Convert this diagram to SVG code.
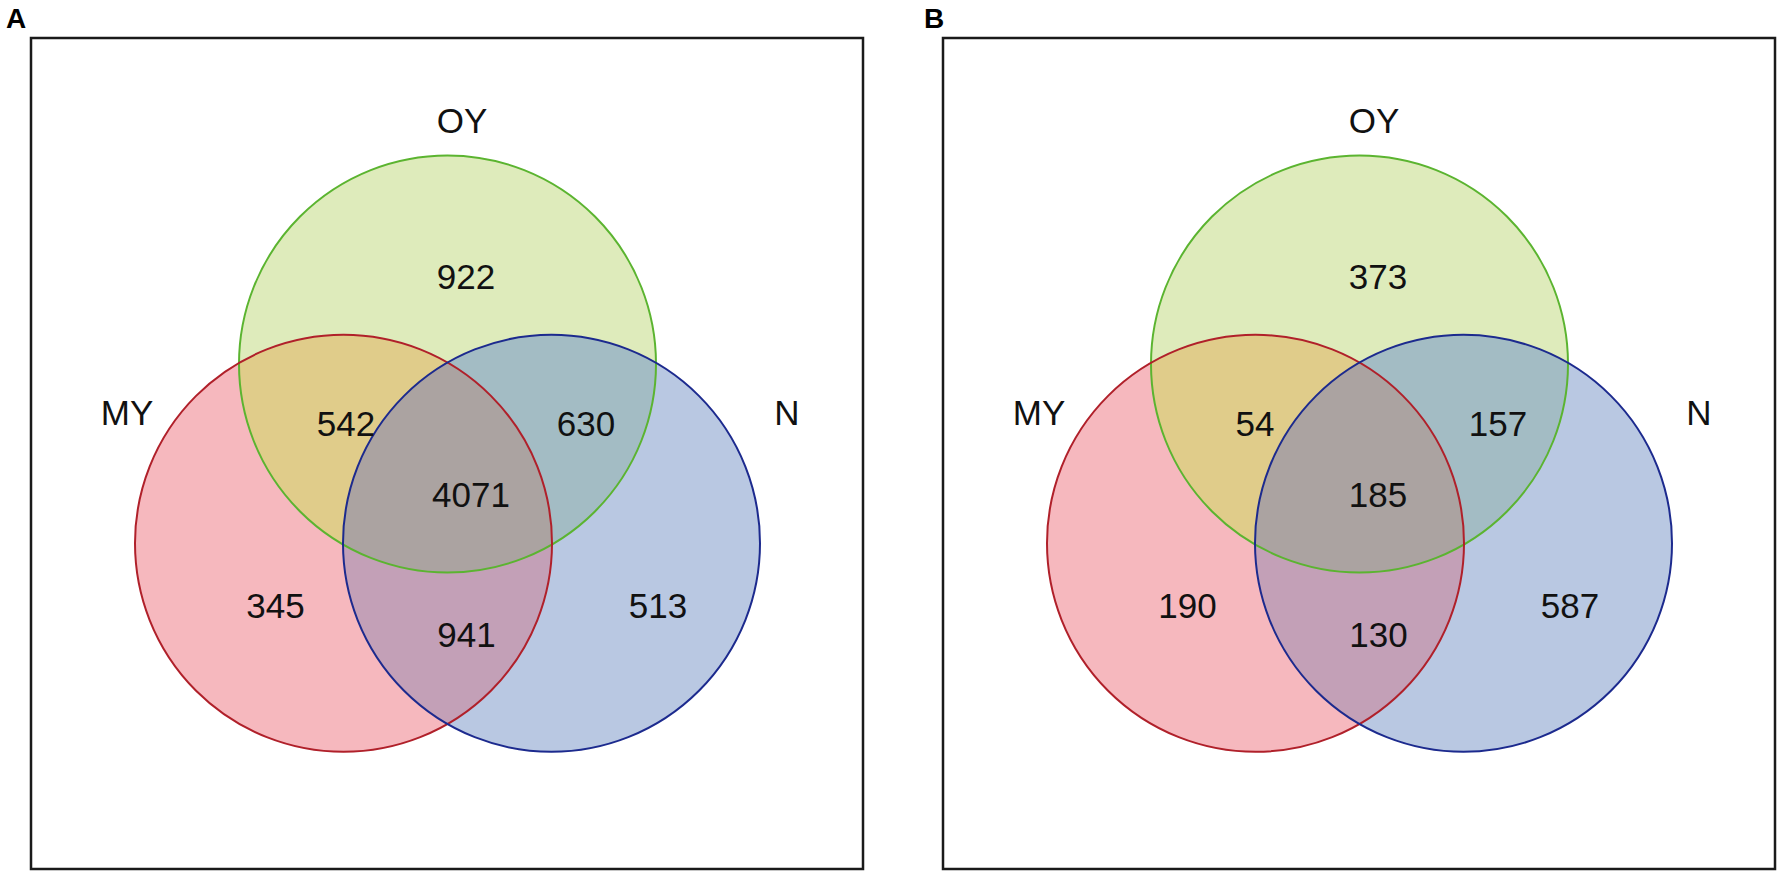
<svg xmlns="http://www.w3.org/2000/svg" width="1783" height="877" viewBox="0 0 1783 877">
<style>
.frame{fill:none;stroke:#1a1a1a;stroke-width:2.5}
.plab{font-family:"Liberation Sans",Arial,sans-serif;font-weight:bold;font-size:28px;fill:#000}
.t{font-family:"Liberation Sans",Arial,sans-serif;font-size:35px;fill:#111;text-anchor:middle}
.rf{fill:#F6B8BE}
.gf{fill:#DEEBBB}
.bf{fill:#B9C8E2}
.rg{fill:#E0CC8A}
.gb{fill:#A3BCC4}
.rb{fill:#C3A0B7}
.rgb{fill:#ABA3A1}
.rs{fill:none;stroke:#B0202A;stroke-width:2}
.gs{fill:none;stroke:#5BB430;stroke-width:2}
.bs{fill:none;stroke:#1C2A8E;stroke-width:2}
</style>
<defs>
<circle id="cR" cx="343.5" cy="543.3" r="208.5"/>
<circle id="cG" cx="447.5" cy="364" r="208.5"/>
<circle id="cB" cx="551.5" cy="543.3" r="208.5"/>
<clipPath id="clipR"><use href="#cR"/></clipPath>
<clipPath id="clipB"><use href="#cB"/></clipPath>
</defs>
<rect width="1783" height="877" fill="#fff"/>

<g id="panelA">
<text class="plab" x="6" y="28">A</text>
<rect class="frame" x="31" y="38" width="832" height="831"/>
<g id="A-fills">
<use href="#cR" class="rf"/>
<use href="#cG" class="gf"/>
<use href="#cB" class="bf"/>
<use href="#cG" class="rg" clip-path="url(#clipR)"/>
<use href="#cG" class="gb" clip-path="url(#clipB)"/>
<use href="#cR" class="rb" clip-path="url(#clipB)"/>
<g clip-path="url(#clipB)"><use href="#cG" class="rgb" clip-path="url(#clipR)"/></g>
</g>
<g id="A-OY"><use href="#cG" class="gs"/><text class="t" x="462" y="133">OY</text></g>
<g id="A-MY"><use href="#cR" class="rs"/><text class="t" x="127" y="425">MY</text></g>
<g id="A-N"><use href="#cB" class="bs"/><text class="t" x="787" y="425">N</text></g>
<g id="A-counts">
<text class="t" x="466" y="289">922</text>
<text class="t" x="346" y="436">542</text>
<text class="t" x="586" y="436">630</text>
<text class="t" x="471" y="507">4071</text>
<text class="t" x="275.5" y="618">345</text>
<text class="t" x="466.5" y="647">941</text>
<text class="t" x="658" y="618">513</text>
</g>
</g>

<g id="panelB">
<text class="plab" x="924" y="28">B</text>
<rect class="frame" x="943" y="38" width="832" height="831"/>
<g transform="translate(912,0)">
<g id="B-fills">
<use href="#cR" class="rf"/>
<use href="#cG" class="gf"/>
<use href="#cB" class="bf"/>
<use href="#cG" class="rg" clip-path="url(#clipR)"/>
<use href="#cG" class="gb" clip-path="url(#clipB)"/>
<use href="#cR" class="rb" clip-path="url(#clipB)"/>
<g clip-path="url(#clipB)"><use href="#cG" class="rgb" clip-path="url(#clipR)"/></g>
</g>
<g id="B-OY"><use href="#cG" class="gs"/><text class="t" x="462" y="133">OY</text></g>
<g id="B-MY"><use href="#cR" class="rs"/><text class="t" x="127" y="425">MY</text></g>
<g id="B-N"><use href="#cB" class="bs"/><text class="t" x="787" y="425">N</text></g>
<g id="B-counts">
<text class="t" x="466" y="289">373</text>
<text class="t" x="343" y="436">54</text>
<text class="t" x="586" y="436">157</text>
<text class="t" x="466" y="507">185</text>
<text class="t" x="275.5" y="618">190</text>
<text class="t" x="466.5" y="647">130</text>
<text class="t" x="658" y="618">587</text>
</g>
</g>
</g>
<g id="connectors"/>
</svg>
